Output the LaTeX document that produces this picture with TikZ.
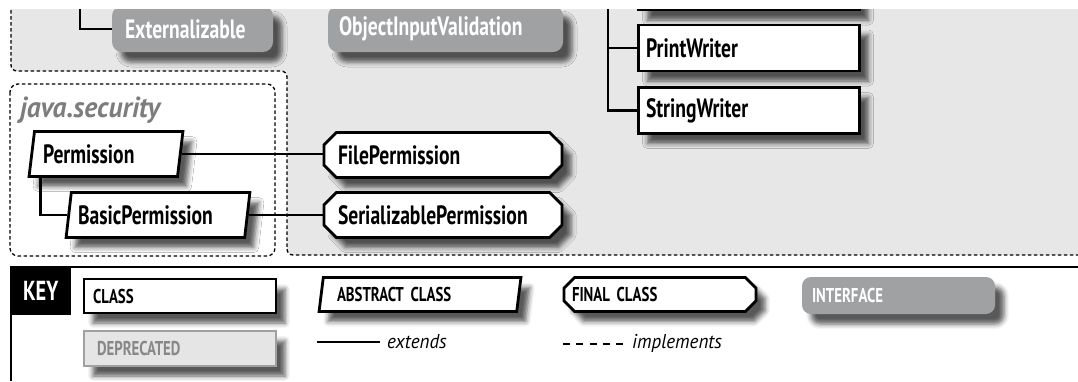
\documentclass[tikz,border=0pt]{standalone}
\usepackage{fontspec}
\setmainfont{PT Sans}[FakeStretch=0.74]
\newfontfamily\widefont{PT Sans}[FakeStretch=0.95]
\usetikzlibrary{shapes.geometric,shapes.misc,shadows.blur}
\definecolor{bggray}{RGB}{231,231,231}
\definecolor{ifgray}{RGB}{160,161,163}
\definecolor{titlegray}{RGB}{125,125,127}
\definecolor{depborder}{RGB}{160,160,160}
\definecolor{depfill}{RGB}{229,229,229}
\definecolor{deptext}{RGB}{135,135,135}
\begin{document}
\begin{tikzpicture}[x=1pt,y=-1pt,
  shd/.style={blur shadow={shadow xshift=9pt, shadow yshift=-10pt, shadow blur radius=5pt, shadow opacity=65}},
  big/.style={font=\fontsize{26.5}{26.5}\selectfont\bfseries},
  small/.style={font=\fontsize{20}{20}\selectfont\bfseries},
  bx/.style={inner sep=0pt, align=left, shd},
  cls/.style={bx, rectangle, draw=black, line width=2.8pt, fill=white},
  abst/.style={bx, trapezium, trapezium left angle=76, trapezium right angle=104, trapezium stretches=true, draw=black, line width=2.8pt, fill=white},
  fin/.style={bx, chamfered rectangle, chamfered rectangle xsep=9pt, draw=black, line width=2.8pt, fill=white},
  ifc/.style={bx, rectangle, rounded corners=10pt, fill=ifgray, text=white},
  dep/.style={bx, rectangle, draw=depborder, line width=2.8pt, fill=depfill, text=deptext},
  ext/.style={line width=2.8pt},
  impl/.style={line width=1.1pt, dash pattern=on 7pt off 6.3pt},
  pkg/.style={line width=1.3pt, dash pattern=on 3.5pt off 2.5pt},
  legend/.style={font=\widefont\fontsize{20}{20}\selectfont\itshape, inner sep=0pt, anchor=west}
]
\useasboundingbox (0,0) rectangle (1078,381);
\clip (0,9) rectangle (1078,381);

% package regions
\fill[bggray, rounded corners=6pt] (11,-20) -- (1100,-20) -- (1100,255) -- (287,255) -- (287,71) -- (11,71) -- cycle;
\draw[pkg, rounded corners=6pt] (11,-20) -- (11,71) -- (287,71) -- (287,255) -- (1100,255);
\draw[pkg, fill=white, rounded corners=8pt] (10,84) rectangle (275,256);
\node[anchor=base west, inner sep=0pt, text=titlegray, font=\widefont\fontsize{29}{29}\selectfont\bfseries\itshape] (jsec) at (20,117) {java.security};

% upper nodes
\node[ifc, big, minimum width=161, minimum height=46, text width=135] (Ext) at (192.5,29) {Externalizable};
\node[ifc, big, minimum width=235, minimum height=46, text width=213] (OIV) at (445.5,29) {ObjectInputValidation};
\node[cls, big, minimum width=221, minimum height=46, text width=206] (PrevW) at (749,-13) {};
\node[cls, big, minimum width=221, minimum height=46, text width=206] (PW) at (749,48) {PrintWriter};
\node[cls, big, minimum width=221, minimum height=46, text width=206] (SW) at (749,110.5) {StringWriter};

\node[abst, big, minimum width=154, minimum height=45, text width=126] (Perm) at (106,154) {Permission};
\node[abst, big, minimum width=184, minimum height=45, text width=160] (BP) at (158,215) {BasicPermission};
\node[fin, big, minimum width=238, minimum height=45, text width=210] (FP) at (443,155) {FilePermission};
\node[fin, big, minimum width=238, minimum height=45, text width=210] (SP) at (443,215) {SerializablePermission};

% connectors
\coordinate (extTop) at (80,0);
\coordinate (wTop) at (608,0);
\draw[ext] (extTop) |- (Ext.west);
\draw[ext] (wTop) |- (PW.west);
\draw[ext] (wTop) |- (SW.west);
\draw[ext] (Perm.east) -- (Perm.east -| FP.west);
\draw[ext, line width=1.6pt] (BP.east) -- (BP.east -| SP.west);
\draw[ext] ([xshift=13pt]Perm.bottom left corner) |- (BP.west);

% key
\coordinate (kl) at (10,267);
\coordinate (kr) at (1078,267);
\draw[line width=1.6pt] (kl) -- (kr);
\node[anchor=north west, fill=black, text=white, inner sep=0pt, minimum width=61, minimum height=48, font=\fontsize{27.5}{27.5}\selectfont\bfseries] (key) at (10,267) {KEY};
\coordinate (kb) at (11,381);
\draw[line width=1.6pt] ([xshift=1pt]key.south west) -- (kb);

\node[cls, small, minimum width=192, minimum height=34, text width=174] (kclass) at (180,296) {CLASS};
\node[dep, small, minimum width=192, minimum height=35, text width=166] (kdep) at (180,348.5) {DEPRECATED};
\node[abst, small, minimum width=202, minimum height=34, text width=166] (kabs) at (420,294.5) {ABSTRACT CLASS};
\node[fin, small, minimum width=192, minimum height=34, text width=176] (kfin) at (660,294.5) {FINAL CLASS};
\node[ifc, small, rounded corners=9pt, minimum width=193, minimum height=37, text width=173] (kifc) at (898.5,295.5) {INTERFACE};

\coordinate (e1) at (317,342);
\coordinate (e2) at (380,342);
\draw[ext] (e1) -- (e2);
\node[legend] (kext) at (387,342) {extends};
\coordinate (i1) at (563,344);
\coordinate (i2) at (624,344);
\draw[impl] (i1) -- (i2);
\node[legend] (kimp) at (632,343) {implements};
\end{tikzpicture}
\end{document}
